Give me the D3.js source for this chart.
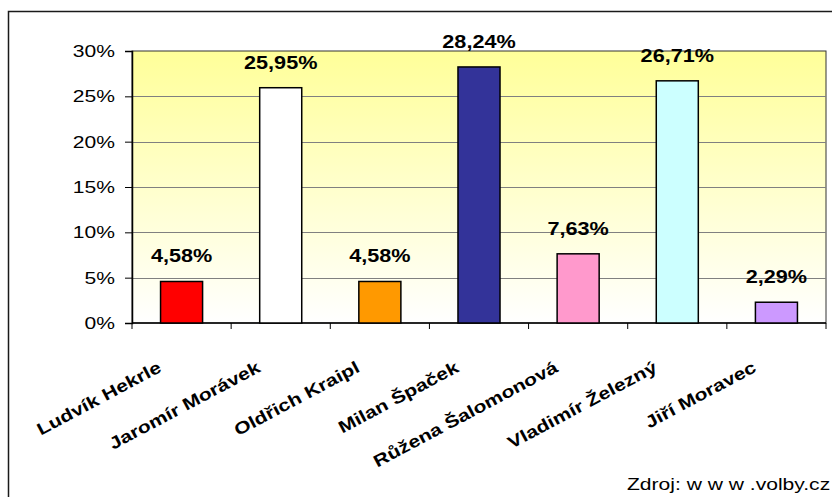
<!DOCTYPE html>
<html>
<head>
<meta charset="utf-8">
<script src="https://cdn.jsdelivr.net/npm/d3@7/dist/d3.min.js"></script>
<style>
  html, body { margin: 0; padding: 0; background: #fff; }
  svg { display: block; font-family: "Liberation Sans", Arial, sans-serif; }
</style>
</head>
<body>
<svg id="chart" width="832" height="497"></svg>
<script>
// Candidates and their vote shares (%)
const candidates = ["Ludvík Hekrle", "Jaromír Morávek", "Oldřich Kraipl", "Milan Špaček",
                    "Růžena Šalomonová", "Vladimír Železný", "Jiří Moravec"];
const shares = [4.58, 25.95, 4.58, 28.24, 7.63, 26.71, 2.29];
const barColors = ["#ff0000", "#ffffff", "#ff9900", "#333399", "#ff99cc", "#ccffff", "#cc99ff"];
const yTicks = [0, 5, 10, 15, 20, 25, 30];
const sourceNote = "Zdroj: w w w .volby.cz";

const svg = d3.select("#chart");
const plot = { left: 132, right: 826, top: 51, bottom: 323 };
const WIDE = 1.24; // horizontal stretch of the chart lettering

// Outer chart frame
svg.append("rect")
  .attr("x", 8.5).attr("y", 11.5)
  .attr("width", 900).attr("height", 600)
  .attr("fill", "#fff").attr("stroke", "#1a1a1a").attr("stroke-width", 1.5);

// Plot background gradient: yellow at top fading to white
const defs = svg.append("defs");
const grad = defs.append("linearGradient").attr("id", "bg").attr("x1", 0).attr("y1", 0).attr("x2", 0).attr("y2", 1);
grad.append("stop").attr("offset", "0%").attr("stop-color", "#ffff99");
grad.append("stop").attr("offset", "100%").attr("stop-color", "#ffffff");

const x = d3.scaleBand().domain(candidates).range([plot.left, plot.right]).paddingInner(0.576).paddingOuter(0.288);
const y = d3.scaleLinear().domain([0, 30]).range([plot.bottom, plot.top]);

svg.append("rect")
  .attr("x", plot.left).attr("y", plot.top)
  .attr("width", plot.right - plot.left).attr("height", plot.bottom - plot.top)
  .attr("fill", "url(#bg)").attr("stroke", "#333").attr("stroke-width", 1);

// Horizontal gridlines
svg.append("g").selectAll("line")
  .data(yTicks.filter(t => t > 0 && t < 30))
  .join("line")
  .attr("x1", plot.left).attr("x2", plot.right)
  .attr("y1", d => Math.round(y(d)) + 0.5).attr("y2", d => Math.round(y(d)) + 0.5)
  .attr("stroke", "#808080").attr("stroke-width", 1);

// Y axis (line + ticks from the axis generator, labels drawn stretched)
const yAxis = svg.append("g")
  .attr("transform", `translate(${plot.left},0)`)
  .call(d3.axisLeft(y).tickValues(yTicks).tickSize(7).tickFormat(""));
yAxis.select(".domain").attr("stroke", "#000").attr("stroke-width", 1.5);
yAxis.selectAll(".tick line").attr("stroke", "#000");
svg.append("g").selectAll("g")
  .data(yTicks)
  .join("g")
  .attr("transform", d => `translate(115,${y(d) + 6}) scale(${WIDE},1)`)
  .append("text")
  .attr("text-anchor", "end")
  .attr("font-size", 17).attr("fill", "#000")
  .text(d => d + "%");

// X axis baseline with ticks at band boundaries
const boundaries = candidates.map((c, i) => plot.left + i * x.step());
boundaries.push(plot.right);
const xg = svg.append("g");
xg.append("line").attr("x1", plot.left).attr("x2", plot.right)
  .attr("y1", plot.bottom).attr("y2", plot.bottom)
  .attr("stroke", "#000").attr("stroke-width", 1.5);
xg.selectAll("line.tk").data(boundaries).join("line").attr("class", "tk")
  .attr("x1", d => d).attr("x2", d => d)
  .attr("y1", plot.bottom).attr("y2", plot.bottom + 6)
  .attr("stroke", "#000");

// Bars
svg.append("g").selectAll("rect")
  .data(candidates)
  .join("rect")
  .attr("x", d => x(d)).attr("width", x.bandwidth())
  .attr("y", (d, i) => y(shares[i])).attr("height", (d, i) => y(0) - y(shares[i]))
  .attr("fill", (d, i) => barColors[i])
  .attr("stroke", "#000").attr("stroke-width", 1.5);

// Value labels above bars
svg.append("g").selectAll("g")
  .data(candidates)
  .join("g")
  .attr("transform", (d, i) => `translate(${x(d) + x.bandwidth() / 2},${y(shares[i]) - 19}) scale(1.17,1)`)
  .append("text")
  .attr("text-anchor", "middle")
  .attr("font-size", 18.5).attr("font-weight", "bold").attr("fill", "#000")
  .text((d, i) => shares[i].toFixed(2).replace(".", ",") + "%");

// Rotated category labels
svg.append("g").selectAll("g")
  .data(candidates)
  .join("g")
  .attr("transform", d => `translate(${x(d) + x.bandwidth() / 2 - 19},${plot.bottom + 48}) rotate(-28) scale(${WIDE},1)`)
  .append("text")
  .attr("text-anchor", "end")
  .attr("font-size", 17).attr("font-weight", "bold").attr("fill", "#000")
  .text(d => d);

// Source note
svg.append("g")
  .attr("transform", `translate(627,490) scale(${WIDE},1)`)
  .append("text")
  .attr("font-size", 17).attr("fill", "#000")
  .text(sourceNote);
</script>
</body>
</html>
